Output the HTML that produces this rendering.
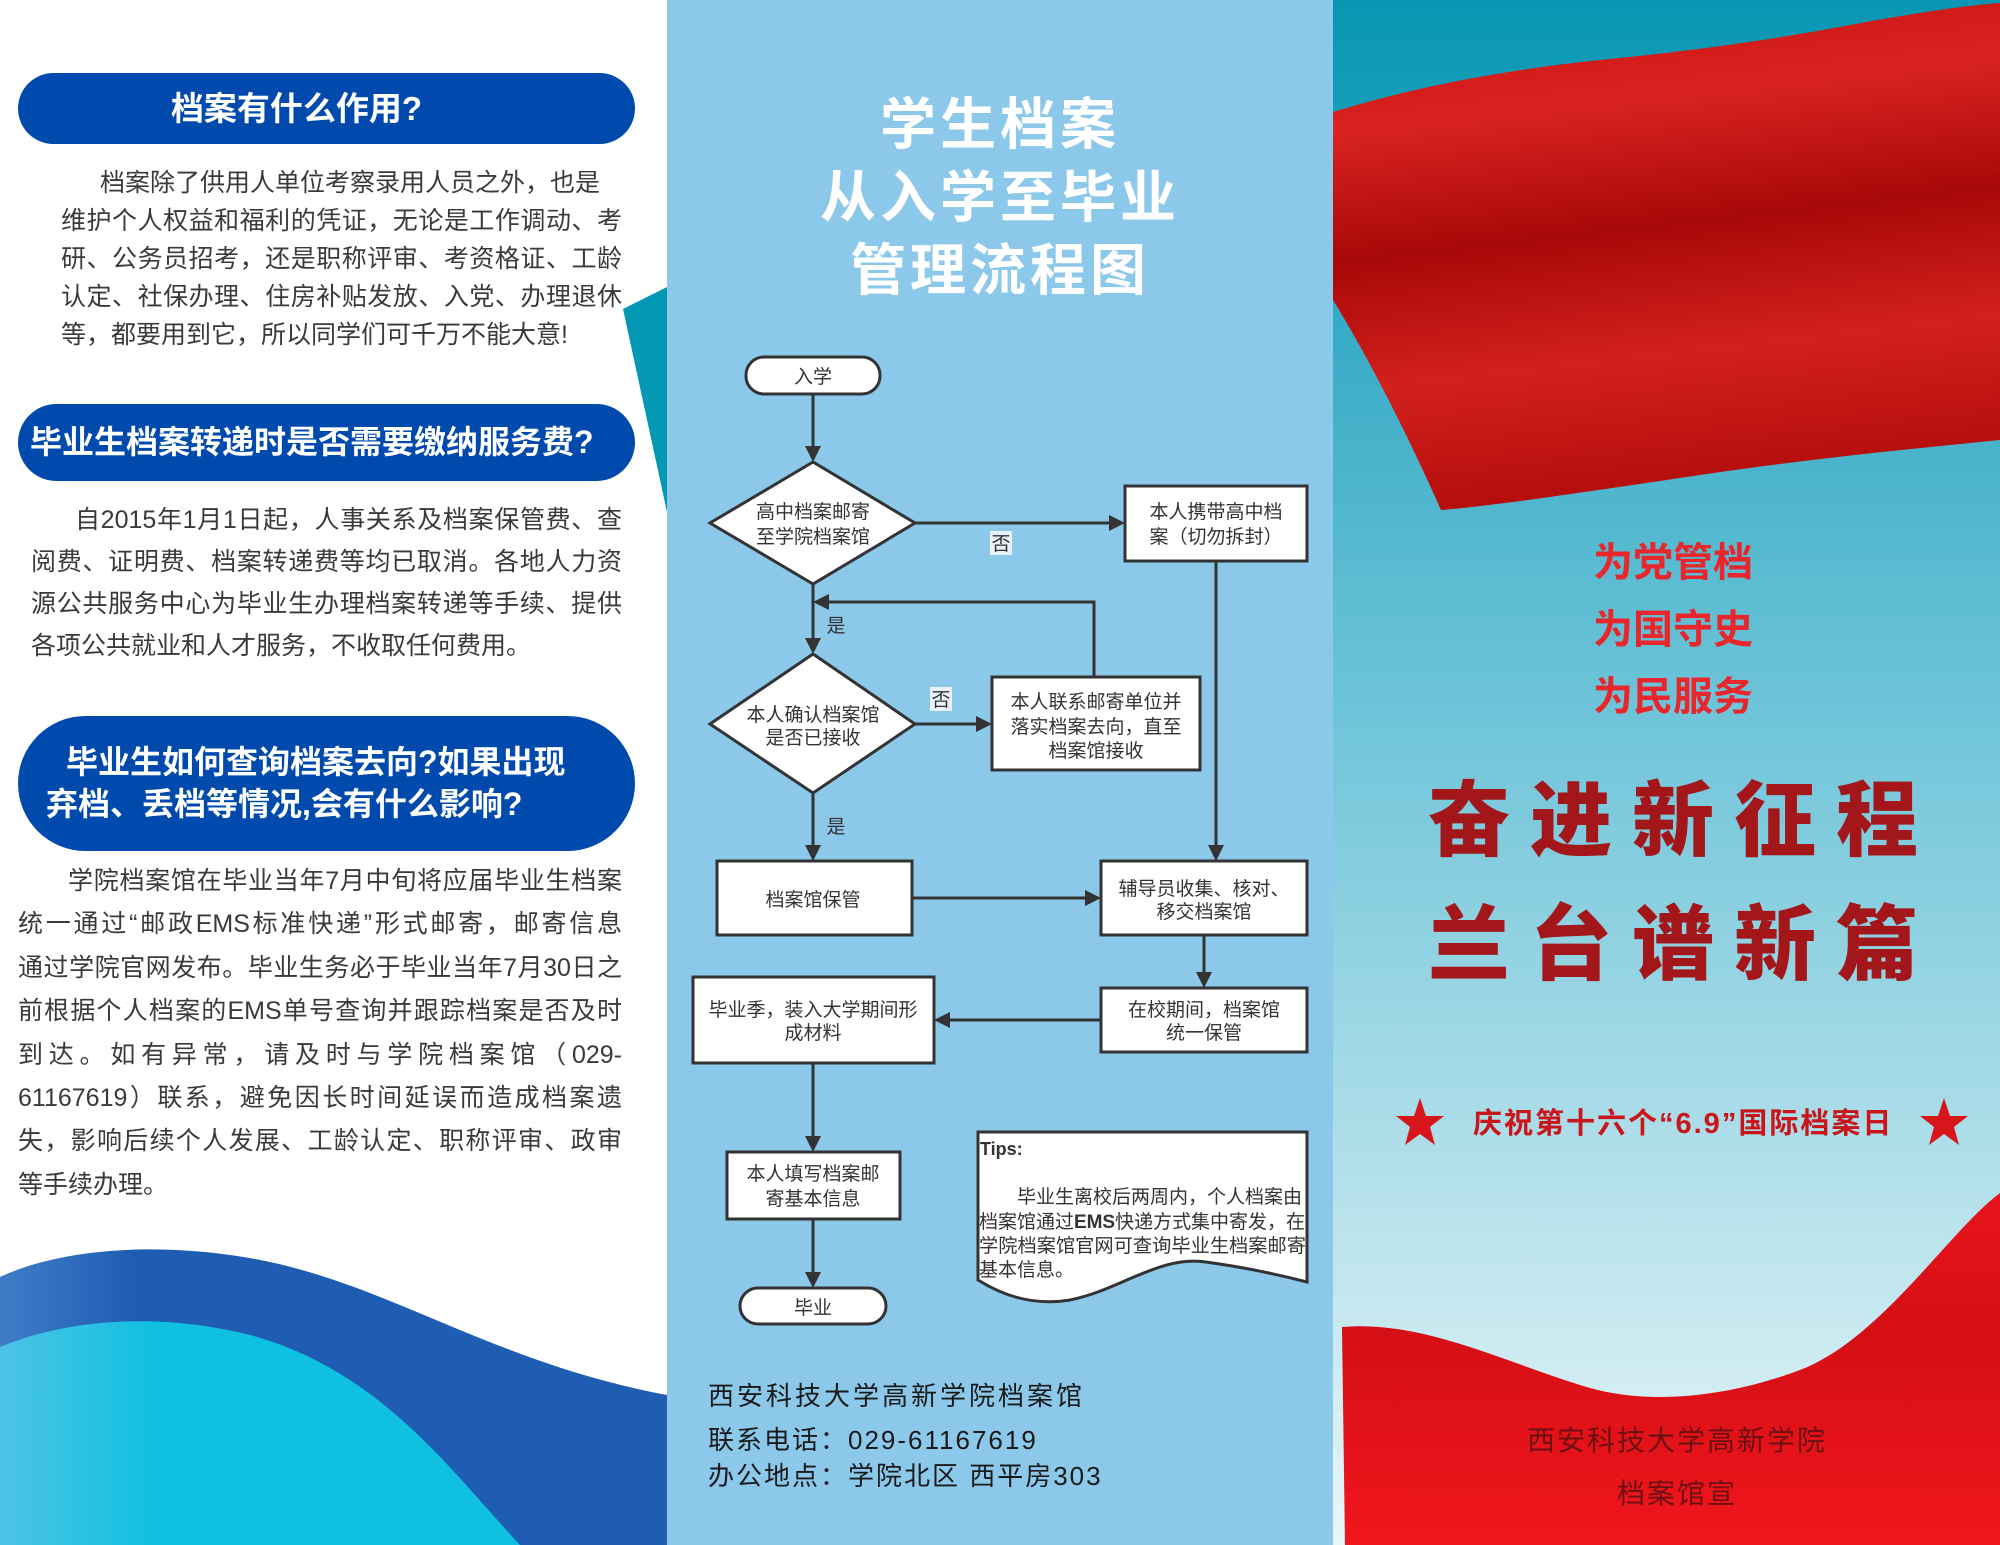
<!DOCTYPE html>
<html><head><meta charset="utf-8"><style>
*{margin:0;padding:0;box-sizing:border-box}
body{width:2000px;height:1545px;position:relative;overflow:hidden;background:#fff;font-family:"Liberation Sans","Noto Sans CJK SC",sans-serif}
.abs{position:absolute}
.pill{position:absolute;left:18px;width:617px;background:#004aad;border-radius:50px;color:#fff;font-weight:bold;text-align:center}
.p{position:absolute;color:#3a3a3a;font-size:25px;text-align:justify;text-align-last:justify}
.p div{white-space:nowrap}
</style></head><body>
<svg class="abs" style="left:0;top:0" width="2000" height="1545">
<defs>
<linearGradient id="rbg" x1="0" y1="0" x2="0" y2="1"><stop offset="0" stop-color="#0796b3"/><stop offset="0.45" stop-color="#6cc3d8"/><stop offset="1" stop-color="#e9f6f9"/></linearGradient>
<linearGradient id="f1" x1="0" y1="0" x2="0.15" y2="1"><stop offset="0" stop-color="#c4110f"/><stop offset="0.25" stop-color="#d92320"/><stop offset="0.5" stop-color="#a80808"/><stop offset="0.75" stop-color="#d2201c"/><stop offset="1" stop-color="#b50e0c"/></linearGradient>
<linearGradient id="f2" x1="0" y1="0" x2="0" y2="1"><stop offset="0" stop-color="#e8141a"/><stop offset="0.4" stop-color="#d50f15"/><stop offset="1" stop-color="#f0161c"/></linearGradient>
<linearGradient id="w1" x1="0" y1="0" x2="1" y2="0"><stop offset="0" stop-color="#3f7dc8"/><stop offset="0.2" stop-color="#1f5db3"/><stop offset="1" stop-color="#1f5db3"/></linearGradient>
<linearGradient id="w2" x1="0" y1="0" x2="1" y2="0"><stop offset="0" stop-color="#4cc3e6"/><stop offset="0.3" stop-color="#10c0e0"/><stop offset="1" stop-color="#10c0e0"/></linearGradient>
</defs>
<path d="M0,1277 C40,1258 120,1240 230,1255 C380,1275 480,1360 667,1395 V1545 H0 Z" fill="url(#w1)"/>
<path d="M0,1347 C60,1322 150,1310 250,1335 C380,1370 450,1470 520,1545 H0 Z" fill="url(#w2)"/>
<polygon points="623,309 667,287 667,512" fill="#0399b5"/>
<rect x="667" y="0" width="666" height="1545" fill="#8bc8ea"/>
<rect x="1333" y="0" width="667" height="1545" fill="url(#rbg)"/>
<path d="M1333,112 C1420,85 1520,68 1600,60 C1680,52 1760,42 1850,25 C1920,12 1970,5 2000,3 V440 C1900,450 1800,460 1700,475 C1600,490 1500,505 1441,510 C1410,440 1370,360 1333,300 Z" fill="url(#f1)"/>
<path d="M1342,1327 C1420,1320 1500,1360 1580,1385 C1640,1405 1720,1400 1800,1370 C1880,1340 1950,1230 2000,1193 V1545 H1345 Z" fill="url(#f2)"/>
<g stroke="#333" stroke-width="3" fill="#fff">
<rect x="746" y="357" width="134" height="37" rx="18"/>
<polygon points="710,523 813,462 915,523 813,584"/>
<rect x="1125" y="486" width="182" height="75"/>
<polygon points="710,724 813,654 915,724 813,793"/>
<rect x="992" y="677" width="208" height="93"/>
<rect x="717" y="861" width="195" height="74"/>
<rect x="1101" y="861" width="206" height="74"/>
<rect x="1101" y="988" width="206" height="64"/>
<rect x="693" y="977" width="241" height="86"/>
<rect x="727" y="1152" width="173" height="67"/>
<rect x="740" y="1288" width="146" height="36" rx="18"/>
<path d="M978,1132 H1307 V1282 C1280,1275 1250,1268 1206,1262 C1160,1255 1120,1290 1070,1300 C1040,1305 1010,1300 978,1280 Z"/>
</g>
<g stroke="#333" stroke-width="3" fill="none">
<path d="M813,394 V448"/><path d="M915,523 H1111"/><path d="M813,584 V640"/>
<path d="M1094,677 V602 H827"/><path d="M915,724 H978"/><path d="M813,793 V847"/>
<path d="M1216,561 V847"/><path d="M912,898 H1087"/><path d="M1204,935 V974"/>
<path d="M1101,1020 H948"/><path d="M813,1063 V1138"/><path d="M813,1219 V1274"/>
</g>
<g fill="#333">
<polygon points="805,446 821,446 813,462"/>
<polygon points="1109,515 1109,531 1125,523"/>
<polygon points="805,638 821,638 813,654"/>
<polygon points="829,594 829,610 813,602"/>
<polygon points="976,716 976,732 992,724"/>
<polygon points="805,845 821,845 813,861"/>
<polygon points="1208,845 1224,845 1216,861"/>
<polygon points="1085,890 1085,906 1101,898"/>
<polygon points="1196,972 1212,972 1204,988"/>
<polygon points="950,1012 950,1028 934,1020"/>
<polygon points="805,1136 821,1136 813,1152"/>
<polygon points="805,1272 821,1272 813,1288"/>
</g>
<g font-family="Liberation Sans,Noto Sans CJK SC,sans-serif" font-size="19" fill="#333" text-anchor="middle">
<text x="813" y="383">入学</text>
<text x="813" y="518">高中档案邮寄</text><text x="813" y="543">至学院档案馆</text>
<text x="1216" y="518">本人携带高中档</text><text x="1216" y="543">案（切勿拆封）</text>
<rect x="990" y="531" width="22" height="24" fill="#e8f2f8"/><text x="1001" y="550">否</text>
<text x="836" y="632">是</text>
<text x="813" y="721">本人确认档案馆</text><text x="813" y="744">是否已接收</text>
<rect x="930" y="687" width="22" height="24" fill="#e8f2f8"/><text x="941" y="706">否</text>
<text x="1096" y="708">本人联系邮寄单位并</text><text x="1096" y="733">落实档案去向，直至</text><text x="1096" y="757">档案馆接收</text>
<text x="836" y="833">是</text>
<text x="813" y="906">档案馆保管</text>
<text x="1204" y="895">辅导员收集、核对、</text><text x="1204" y="918">移交档案馆</text>
<text x="1204" y="1016">在校期间，档案馆</text><text x="1204" y="1039">统一保管</text>
<text x="813" y="1016">毕业季，装入大学期间形</text><text x="813" y="1039">成材料</text>
<text x="813" y="1180">本人填写档案邮</text><text x="813" y="1205">寄基本信息</text>
<text x="813" y="1314">毕业</text>
</g>
<g font-family="Liberation Sans,Noto Sans CJK SC,sans-serif" font-size="19" fill="#333">
<text x="980" y="1155" font-weight="bold" font-size="18">Tips:</text>
<text x="1017" y="1203">毕业生离校后两周内，个人档案由</text>
<text x="979" y="1228" textLength="326" lengthAdjust="spacingAndGlyphs">档案馆通过<tspan font-weight="bold">EMS</tspan>快递方式集中寄发，在</text>
<text x="979" y="1252" textLength="327" lengthAdjust="spacingAndGlyphs">学院档案馆官网可查询毕业生档案邮寄</text>
<text x="979" y="1276">基本信息。</text>
</g>
<g fill="#d7161b">
<polygon points="1420,1098 1426,1116 1444,1116 1430,1127 1435,1145 1420,1134 1405,1145 1410,1127 1396,1116 1414,1116"/>
<polygon points="1944,1098 1950,1116 1968,1116 1954,1127 1959,1145 1944,1134 1929,1145 1934,1127 1920,1116 1938,1116"/>
</g>
</svg>

<div class="pill" style="top:73px;height:71px;font-size:33px;line-height:71px;padding-right:60px">档案有什么作用?</div>
<div class="p" style="left:61px;top:164px;width:561px;line-height:38px">
<div style="text-align:left;text-align-last:left;padding-left:39px">档案除了供用人单位考察录用人员之外，也是</div>
<div>维护个人权益和福利的凭证，无论是工作调动、考</div>
<div>研、公务员招考，还是职称评审、考资格证、工龄</div>
<div>认定、社保办理、住房补贴发放、入党、办理退休</div>
<div style="text-align-last:left">等，都要用到它，所以同学们可千万不能大意!</div>
</div>
<div class="pill" style="top:404px;height:77px;font-size:32px;line-height:77px;text-align:left;padding-left:12px">毕业生档案转递时是否需要缴纳服务费?</div>
<div class="p" style="left:31px;top:499px;width:591px;line-height:42px">
<div style="padding-left:44px">自2015年1月1日起，人事关系及档案保管费、查</div>
<div>阅费、证明费、档案转递费等均已取消。各地人力资</div>
<div>源公共服务中心为毕业生办理档案转递等手续、提供</div>
<div style="text-align-last:left">各项公共就业和人才服务，不收取任何费用。</div>
</div>
<div class="pill" style="top:716px;height:135px;font-size:32px;line-height:42px;padding-top:25px;border-radius:70px;text-align:left;padding-left:48px">毕业生如何查询档案去向?如果出现<br><span style="margin-left:-20px">弃档、丢档等情况,会有什么影响?</span></div>
<div class="p" style="left:18px;top:860px;width:604px;line-height:43.4px">
<div style="padding-left:50px">学院档案馆在毕业当年7月中旬将应届毕业生档案</div>
<div>统一通过“邮政EMS标准快递”形式邮寄，邮寄信息</div>
<div>通过学院官网发布。毕业生务必于毕业当年7月30日之</div>
<div>前根据个人档案的EMS单号查询并跟踪档案是否及时</div>
<div>到达。如有异常，请及时与学院档案馆（029-</div>
<div>61167619）联系，避免因长时间延误而造成档案遗</div>
<div>失，影响后续个人发展、工龄认定、职称评审、政审</div>
<div style="text-align-last:left">等手续办理。</div>
</div>

<div class="abs" style="left:667px;top:88px;width:666px;text-align:center;color:#fff;font-weight:bold;font-size:56px;line-height:73px;letter-spacing:4px">学生档案<br>从入学至毕业<br>管理流程图</div>
<div class="abs" style="left:708px;top:1376px;color:#1a1a1a;font-size:26px;letter-spacing:3px;line-height:40px">西安科技大学高新学院档案馆</div>
<div class="abs" style="left:708px;top:1422px;color:#1a1a1a;font-size:26px;letter-spacing:2px;line-height:36px">联系电话：029-61167619<br>办公地点：学院北区 西平房303</div>

<div class="abs" style="left:1333px;top:530px;width:680px;text-align:center;color:#e8262b;font-weight:bold;font-size:40px;line-height:67px">为党管档<br>为国守史<br>为民服务</div>
<div class="abs" style="left:1333px;top:760px;width:680px;text-align:center;color:#a3161a;font-weight:900;font-size:82px;line-height:124px;letter-spacing:20px;padding-left:20px">奋进新征程<br>兰台谱新篇</div>
<div class="abs" style="left:1473px;top:1104px;width:430px;color:#c8161b;font-weight:bold;font-size:29px;line-height:40px;letter-spacing:2px;white-space:nowrap">庆祝第十六个“6.9”国际档案日</div>
<div class="abs" style="left:1333px;top:1414px;width:688px;text-align:center;color:#6b1013;font-size:28px;line-height:53px;letter-spacing:2px">西安科技大学高新学院<br>档案馆宣</div>
</body></html>
